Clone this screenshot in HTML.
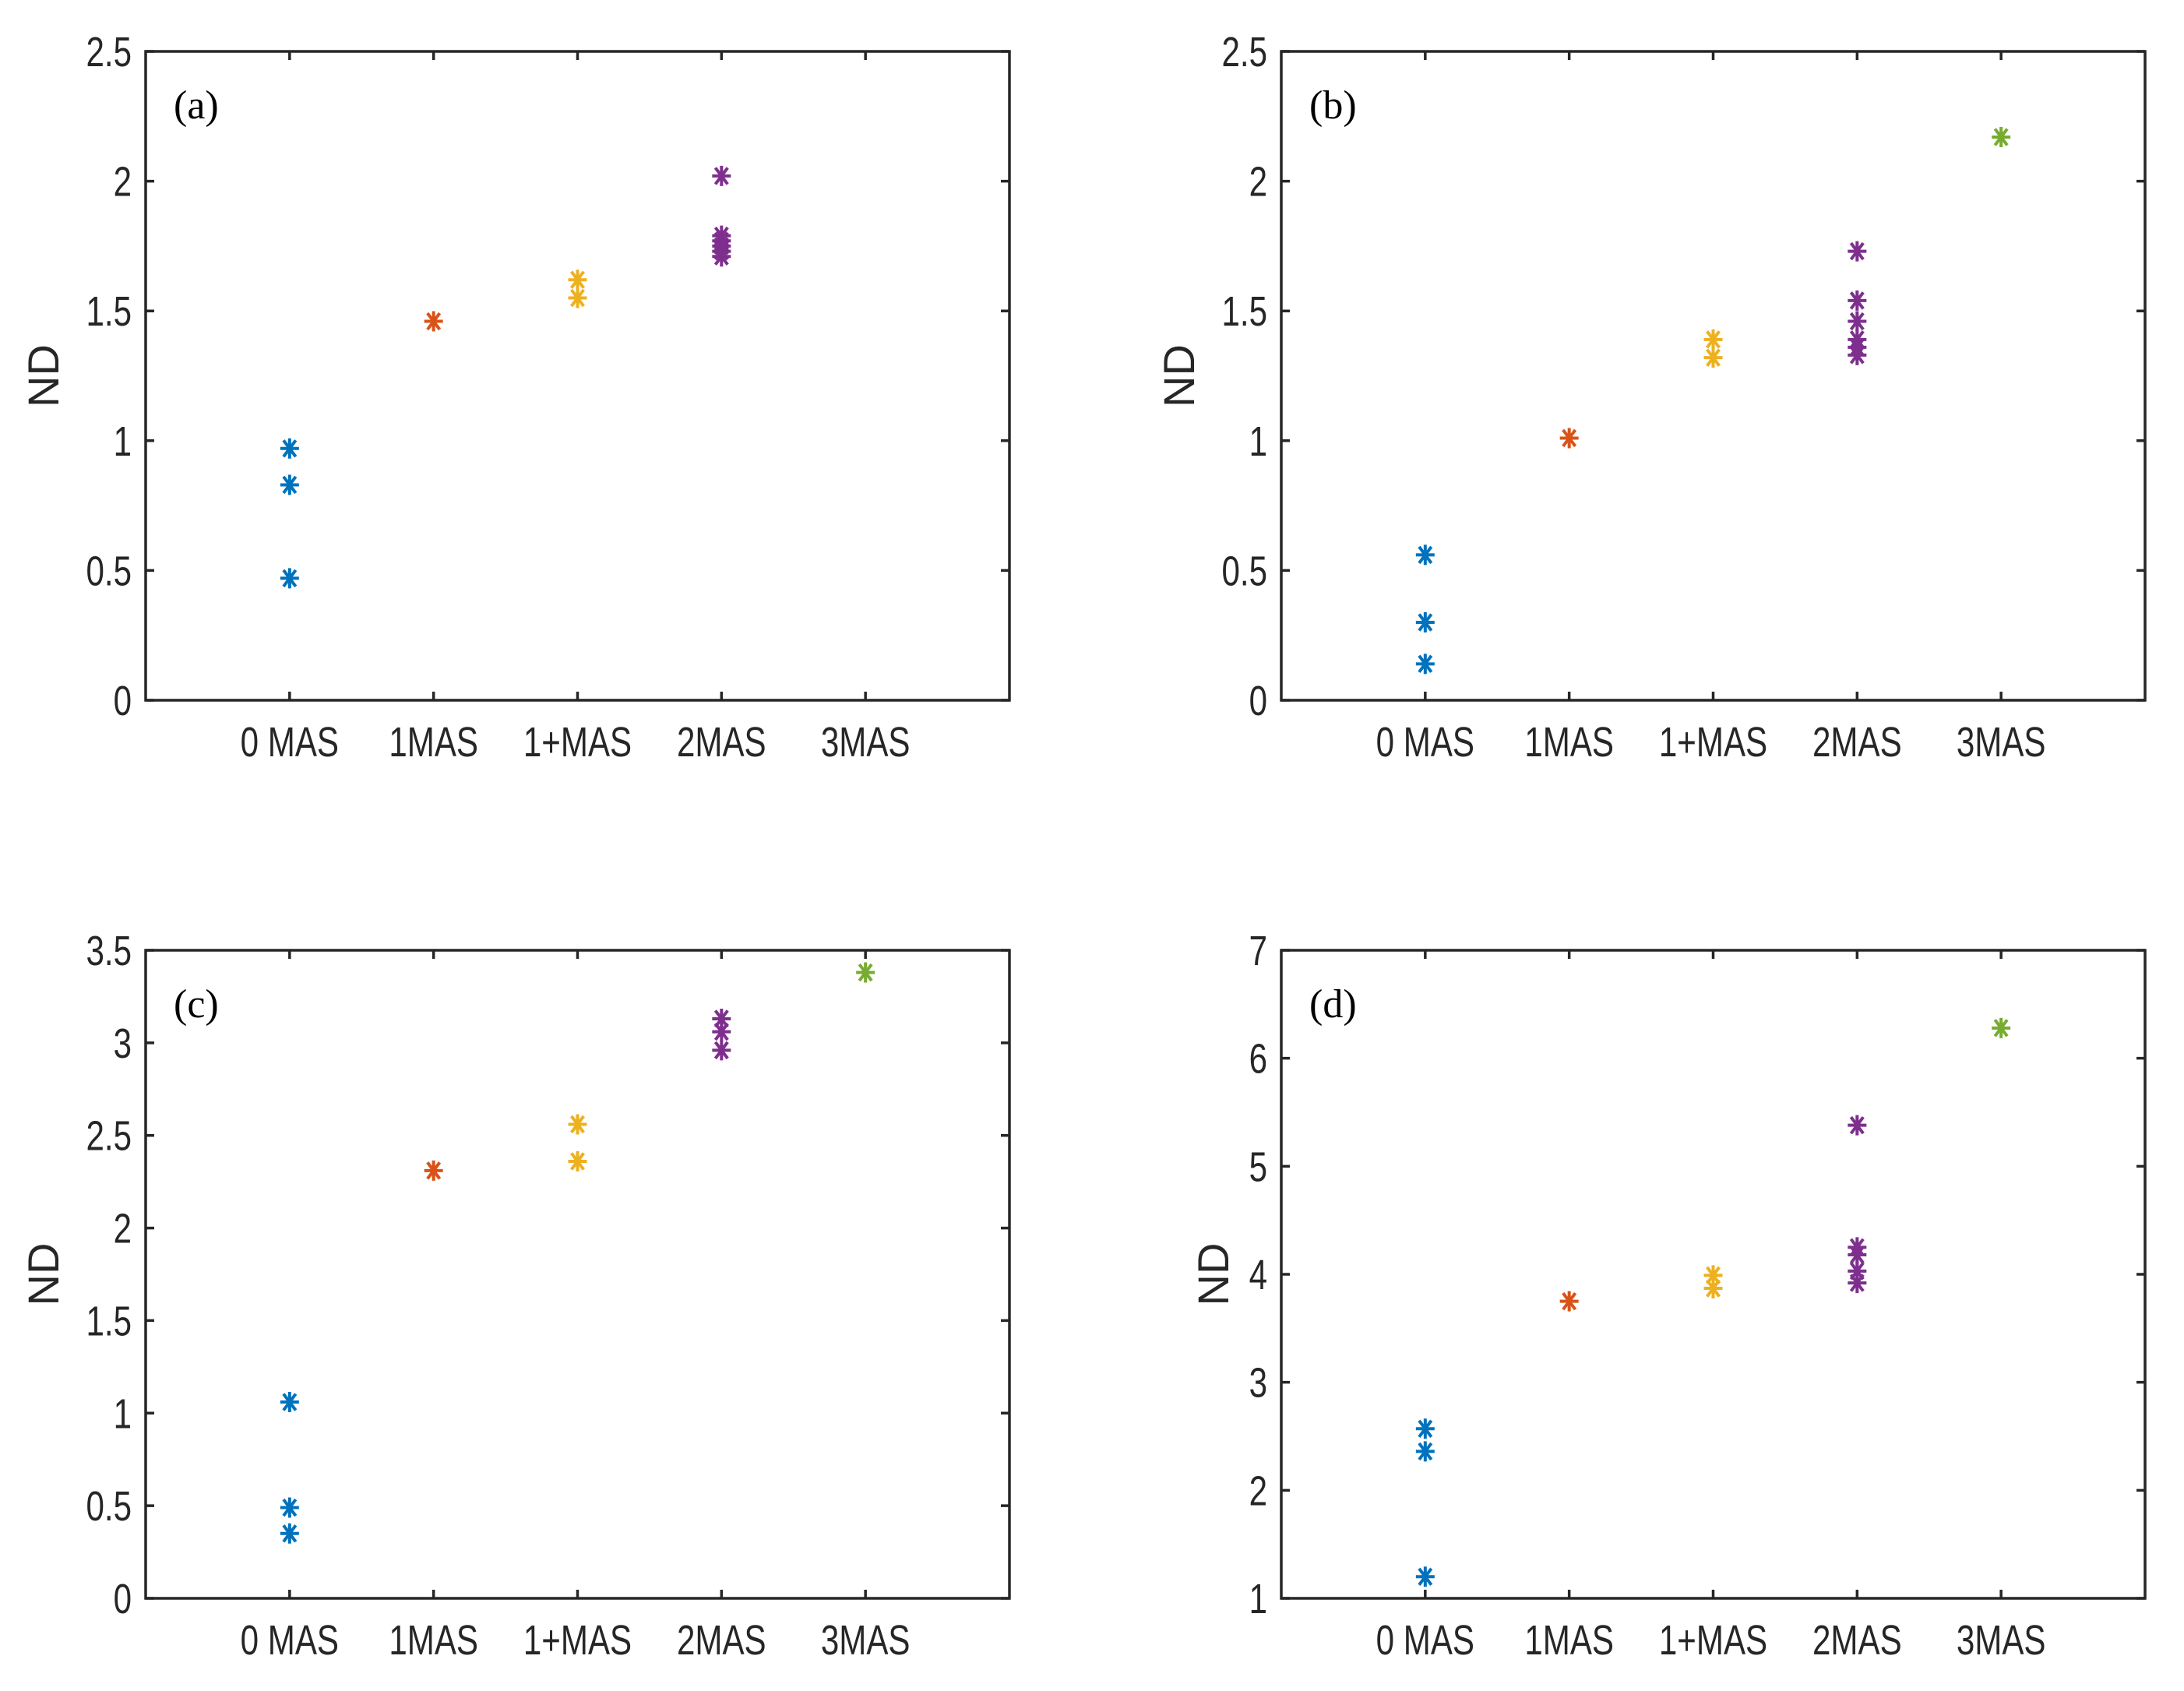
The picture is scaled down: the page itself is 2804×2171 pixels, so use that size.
<!DOCTYPE html>
<html><head><meta charset="utf-8"><style>
html,body{margin:0;padding:0;background:#fff;}
svg{display:block;}
</style></head><body>
<svg id="fig" width="2804" height="2171" viewBox="0 0 2804 2171" xmlns="http://www.w3.org/2000/svg"></svg>
<script>
const categories = ["0 MAS","1MAS","1+MAS","2MAS","3MAS"];
const colors = ["#0072BD","#D95319","#EDB120","#7E2F8E","#77AC30"];
// panel (a)
const aVals = [[0.97,0.83,0.47],[1.46],[1.62,1.55],[2.02,1.79,1.77,1.75,1.73,1.71],[]];
const aTicks = [0,0.5,1,1.5,2,2.5];
const aTickLabels = ["0","0.5","1","1.5","2","2.5"];
// panel (b)
const bVals = [[0.56,0.30,0.14],[1.01],[1.39,1.32],[1.73,1.54,1.46,1.39,1.36,1.33],[2.17]];
const bTicks = [0,0.5,1,1.5,2,2.5];
const bTickLabels = ["0","0.5","1","1.5","2","2.5"];
// panel (c)
const cVals = [[1.06,0.49,0.35],[2.31],[2.56,2.36],[3.13,3.06,2.96],[3.38]];
const cTicks = [0,0.5,1,1.5,2,2.5,3,3.5];
const cTickLabels = ["0","0.5","1","1.5","2","2.5","3","3.5"];
// panel (d)
const dVals = [[2.57,2.36,1.20],[3.75],[3.99,3.87],[5.38,4.25,4.18,4.03,3.92],[6.28]];
const dTicks = [1,2,3,4,5,6,7];
const dTickLabels = ["1","2","3","4","5","6","7"];

const NS = "http://www.w3.org/2000/svg";
const svg = document.getElementById("fig");
function mk(tag, attrs, parent){
  const e = document.createElementNS(NS, tag);
  for (const k in attrs) e.setAttribute(k, attrs[k]);
  (parent||svg).appendChild(e);
  return e;
}
function panel(id, letter, L, T, R, B, vals, ticks, tickLabels, ylabelOffset){
  const g = mk("g", {});
  
  
  const ymin = ticks[0], ymax = ticks[ticks.length-1];
  const yS = v => B - (v - ymin) / (ymax - ymin) * (B - T);
  const xS = i => L + (i + 1) / 6 * (R - L);
  const tl = 11;
  ticks.forEach((t, i) => {
    const y = yS(t);
    const tk = mk("path", {d:`M${L},${y}h${tl}M${R},${y}h${-tl}`, stroke:"#262626", "stroke-width":3.5, fill:"none"}, g);
    
    
    const ax = L-18;
    const lb = mk("text", {x:ax, y:y+19, "text-anchor":"end", "font-family":"Liberation Sans, sans-serif", "font-size":54, fill:"#262626", transform:`translate(${ax},0) scale(0.78,1) translate(${-ax},0)`}, g);
    lb.textContent = tickLabels[i];
    
    
  });
  categories.forEach((c, i) => {
    const x = xS(i);
    const tk = mk("path", {d:`M${x},${B}v${-tl}M${x},${T}v${tl}`, stroke:"#262626", "stroke-width":3.5, fill:"none"}, g);
    
    
    const lb = mk("text", {x:x, y:B+72, "text-anchor":"middle", "font-family":"Liberation Sans, sans-serif", "font-size":54, fill:"#262626", transform:`translate(${x},0) scale(0.78,1) translate(${-x},0)`}, g);
    lb.textContent = c;
    
    
  });
  const fr = mk("rect", {x:L, y:T, width:R-L, height:B-T, fill:"none", stroke:"#262626", "stroke-width":3.5}, g);
  
  
  const yl = B - (B - T) / 2;
  const lx = L - ylabelOffset;
  const ylab = mk("text", {x:lx, y:yl, "text-anchor":"middle", "font-family":"Liberation Sans, sans-serif", "font-size":56, fill:"#262626", transform:`rotate(-90 ${lx} ${yl})`}, g);
  ylab.textContent = "ND";
  
  
  const pl = mk("text", {x:L+36, y:T+86, "font-family":"Liberation Serif, serif", "font-size":52, fill:"#000"}, g);
  pl.textContent = "(" + letter + ")";
  
  
  vals.forEach((arr, i) => {
    arr.forEach(v => {
      const x = xS(i), y = yS(v), r = 13, d = 10.5, h = 12;
      const m = mk("path", {d:`M${x},${y-r}V${y+r}M${x-h},${y}H${x+h}M${x-d*0.75},${y-d}L${x+d*0.75},${y+d}M${x-d*0.75},${y+d}L${x+d*0.75},${y-d}`, stroke:colors[i], "stroke-width":4, fill:"none"}, g);
      
      
    });
  });
}
panel("a","a",187,66,1296,899,aVals,aTicks,aTickLabels,112);
panel("b","b",1645,66,2754,899,bVals,bTicks,bTickLabels,112);
panel("c","c",187,1220,1296,2052,cVals,cTicks,cTickLabels,112);
panel("d","d",1645,1220,2754,2052,dVals,dTicks,dTickLabels,68);
</script>
</body></html>
